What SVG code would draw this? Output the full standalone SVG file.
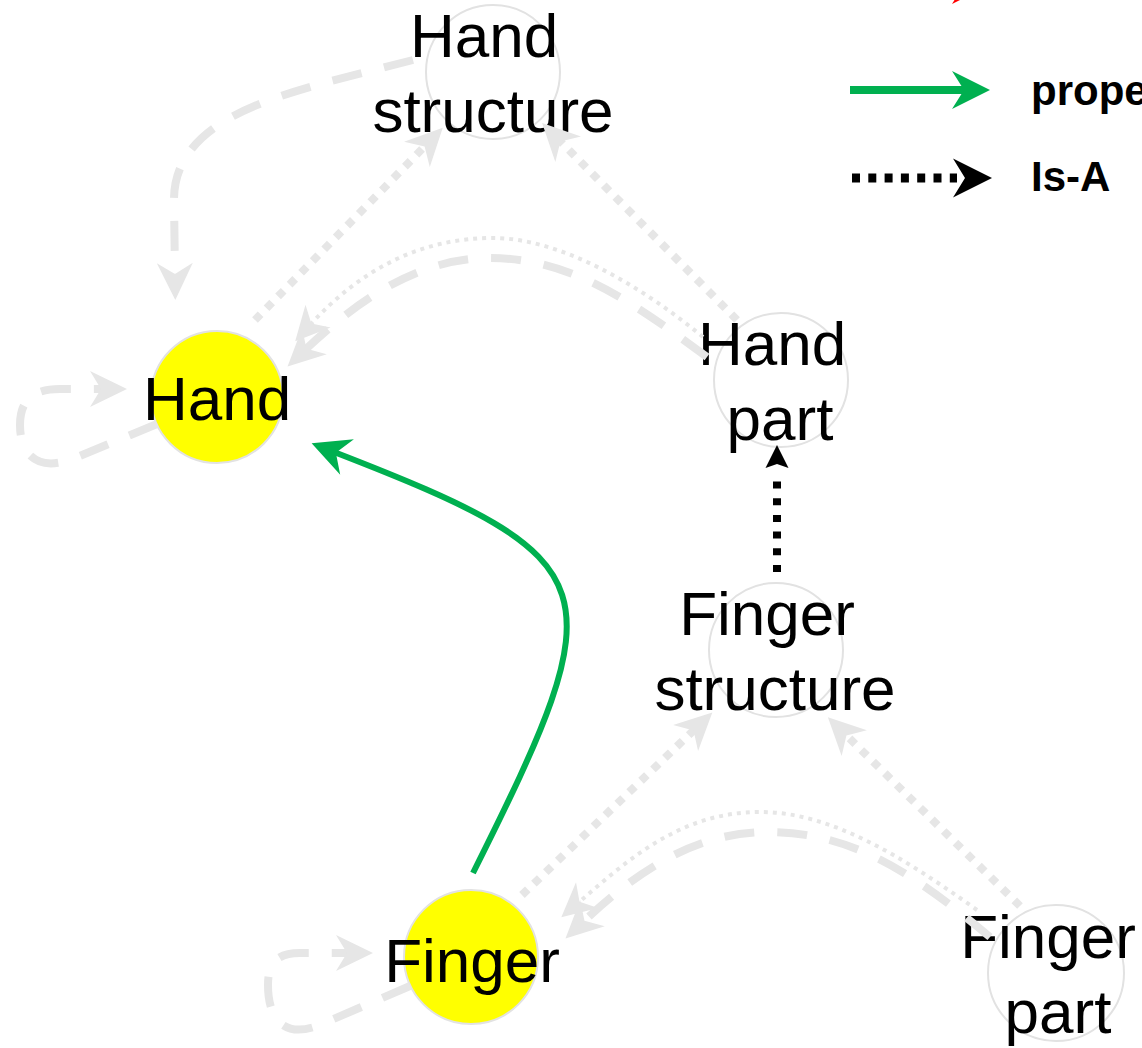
<svg xmlns="http://www.w3.org/2000/svg" width="1142" height="1048" viewBox="0 0 1142 1048">
  <defs>
    <style>
      .node circle { stroke: #e2e2e2; stroke-width: 2; }
      .plain { fill: #ffffff; }
      .hot { fill: #ffff00; }
      .label { font-family: "Liberation Sans", Arial, sans-serif; font-size: 62px; fill: #000000; text-anchor: middle; }
      .e { fill: none; stroke: #e6e6e6; }
      .dash { stroke-width: 8; stroke-dasharray: 30 23; }
      .dot { stroke-width: 8; stroke-dasharray: 8 8.5; }
      .fine { stroke-width: 4; stroke-dasharray: 4 5; }
      .legend-text { font-family: "Liberation Sans", Arial, sans-serif; font-weight: bold; font-size: 42px; fill: #000000; }
    </style>
    <!-- concave "classic" arrowheads; refX is where the line ends behind the tip -->
    <marker id="ah-gray" viewBox="-40 -20 41 40" markerWidth="41" markerHeight="40" refX="-24" refY="0" markerUnits="userSpaceOnUse" orient="auto" overflow="visible">
      <path d="M0,0 L-37,-18 L-26,0 L-37,18 Z" fill="#e6e6e6"/>
    </marker>
    <marker id="ah-gray-fine" viewBox="-40 -20 41 40" markerWidth="41" markerHeight="40" refX="-22" refY="0" markerUnits="userSpaceOnUse" orient="auto" overflow="visible">
      <path d="M0,0 L-34,-17 L-24,0 L-34,17 Z" fill="#e6e6e6"/>
    </marker>
    <marker id="ah-green" viewBox="-40 -20 41 40" markerWidth="41" markerHeight="40" refX="-24" refY="0" markerUnits="userSpaceOnUse" orient="auto" overflow="visible">
      <path d="M0,0 L-38,-19 L-26,0 L-38,19 Z" fill="#00b050"/>
    </marker>
    <marker id="ah-red" viewBox="-40 -20 41 40" markerWidth="41" markerHeight="40" refX="-24" refY="0" markerUnits="userSpaceOnUse" orient="auto" overflow="visible">
      <path d="M0,0 L-38,-19 L-26,0 L-38,19 Z" fill="#ff0000"/>
    </marker>
    <marker id="ah-black" viewBox="-40 -20 41 40" markerWidth="41" markerHeight="40" refX="-36" refY="0" markerUnits="userSpaceOnUse" orient="auto" overflow="visible">
      <path d="M0,0 L-23,-11.5 L-19,0 L-23,11.5 Z" fill="#000000"/>
    </marker>
    <marker id="ah-black-lg" viewBox="-40 -20 41 40" markerWidth="41" markerHeight="40" refX="-35" refY="0" markerUnits="userSpaceOnUse" orient="auto" overflow="visible">
      <path d="M0,0 L-39,-19.5 L-27,0 L-39,19.5 Z" fill="#000000"/>
    </marker>
  </defs>

  <rect width="1142" height="1048" fill="#ffffff"/>

  <!-- nodes -->
  <g id="node-hand-structure" class="node">
    <circle class="plain" cx="493" cy="72" r="67"/>
    <text class="label"><tspan x="484" y="57">Hand</tspan><tspan x="493" y="132">structure</tspan></text>
  </g>
  <g id="node-hand" class="node">
    <circle class="hot" cx="217" cy="397" r="66"/>
    <text class="label" x="217" y="420">Hand</text>
  </g>
  <g id="node-hand-part" class="node">
    <circle class="plain" cx="781" cy="380" r="67"/>
    <text class="label"><tspan x="772" y="365">Hand</tspan><tspan x="780" y="440">part</tspan></text>
  </g>
  <g id="node-finger-structure" class="node">
    <circle class="plain" cx="776" cy="650" r="67"/>
    <text class="label"><tspan x="767" y="635">Finger</tspan><tspan x="775" y="710">structure</tspan></text>
  </g>
  <g id="node-finger" class="node">
    <circle class="hot" cx="471" cy="957" r="67"/>
    <text class="label" x="472" y="982">Finger</text>
  </g>
  <g id="node-finger-part" class="node">
    <circle class="plain" cx="1056" cy="973" r="68"/>
    <text class="label"><tspan x="1048" y="958">Finger</tspan><tspan x="1058" y="1033">part</tspan></text>
  </g>

  <!-- connectors -->
  <g id="connectors">
    <!-- Hand structure -> Hand -->
    <path class="e dash" d="M413,60 C 300,90 174,110 174,200 L175,276" marker-end="url(#ah-gray)"/>
    <!-- Hand -> Hand structure -->
    <path class="e dot" d="M255,320 L426,145" marker-end="url(#ah-gray)"/>
    <!-- Hand part -> Hand structure -->
    <path class="e dot" d="M737,320 L559,140" marker-end="url(#ah-gray)"/>
    <!-- Hand part -> Hand (two arcs) -->
    <path class="e fine" d="M703,337 C 640,285 560,238 493,238 C 420,238 360,270 310,325" marker-end="url(#ah-gray-fine)"/>
    <path class="e dash" d="M707,357 C 630,300 570,258 490,258 C 420,258 360,298 305,350" marker-end="url(#ah-gray)"/>
    <!-- Hand self loop -->
    <path class="e dash" d="M157,424 L75,458 C 38,473 20,455 20,425 C 20,400 33,389 60,389 L103,389" marker-end="url(#ah-gray)"/>
    <!-- Finger -> Hand (property) -->
    <path fill="none" stroke="#00b050" stroke-width="6" d="M473,873 C 617,585 613,560 334,452" marker-end="url(#ah-green)"/>
    <!-- Finger structure -> Hand part (Is-A) -->
    <path fill="none" stroke="#000000" stroke-width="8" stroke-dasharray="7 9.7" d="M777,572 L777,481" marker-end="url(#ah-black)"/>
    <!-- Finger -> Finger structure -->
    <path class="e dot" d="M522,895 L695,729" marker-end="url(#ah-gray)"/>
    <!-- Finger part -> Finger structure -->
    <path class="e dot" d="M1020,906 L845,734" marker-end="url(#ah-gray)"/>
    <!-- Finger part -> Finger (two arcs) -->
    <path class="e fine" d="M977,910 C 900,855 830,812 760,812 C 680,812 628,860 578,903" marker-end="url(#ah-gray-fine)"/>
    <path class="e dash" d="M990,937 C 910,870 850,832 767,832 C 690,832 630,878 583,922" marker-end="url(#ah-gray)"/>
    <!-- Finger self loop -->
    <path class="e dash" d="M410,986 L322,1024 C 285,1040 268,1020 268,985 C 268,962 278,953 300,953 L349,953" marker-end="url(#ah-gray)"/>
  </g>

  <!-- legend -->
  <g id="legend">
    <path fill="none" stroke="#ff0000" stroke-width="6" d="M850,-15 L966,-15" marker-end="url(#ah-red)"/>
    <path fill="none" stroke="#00b050" stroke-width="8" d="M850,90 L966,90" marker-end="url(#ah-green)"/>
    <text class="legend-text" x="1031" y="105">property</text>
    <path fill="none" stroke="#000000" stroke-width="9" stroke-dasharray="8 8.3" d="M852,178 L957,178" marker-end="url(#ah-black-lg)"/>
    <text class="legend-text" x="1031" y="191">Is-A</text>
  </g>
</svg>
